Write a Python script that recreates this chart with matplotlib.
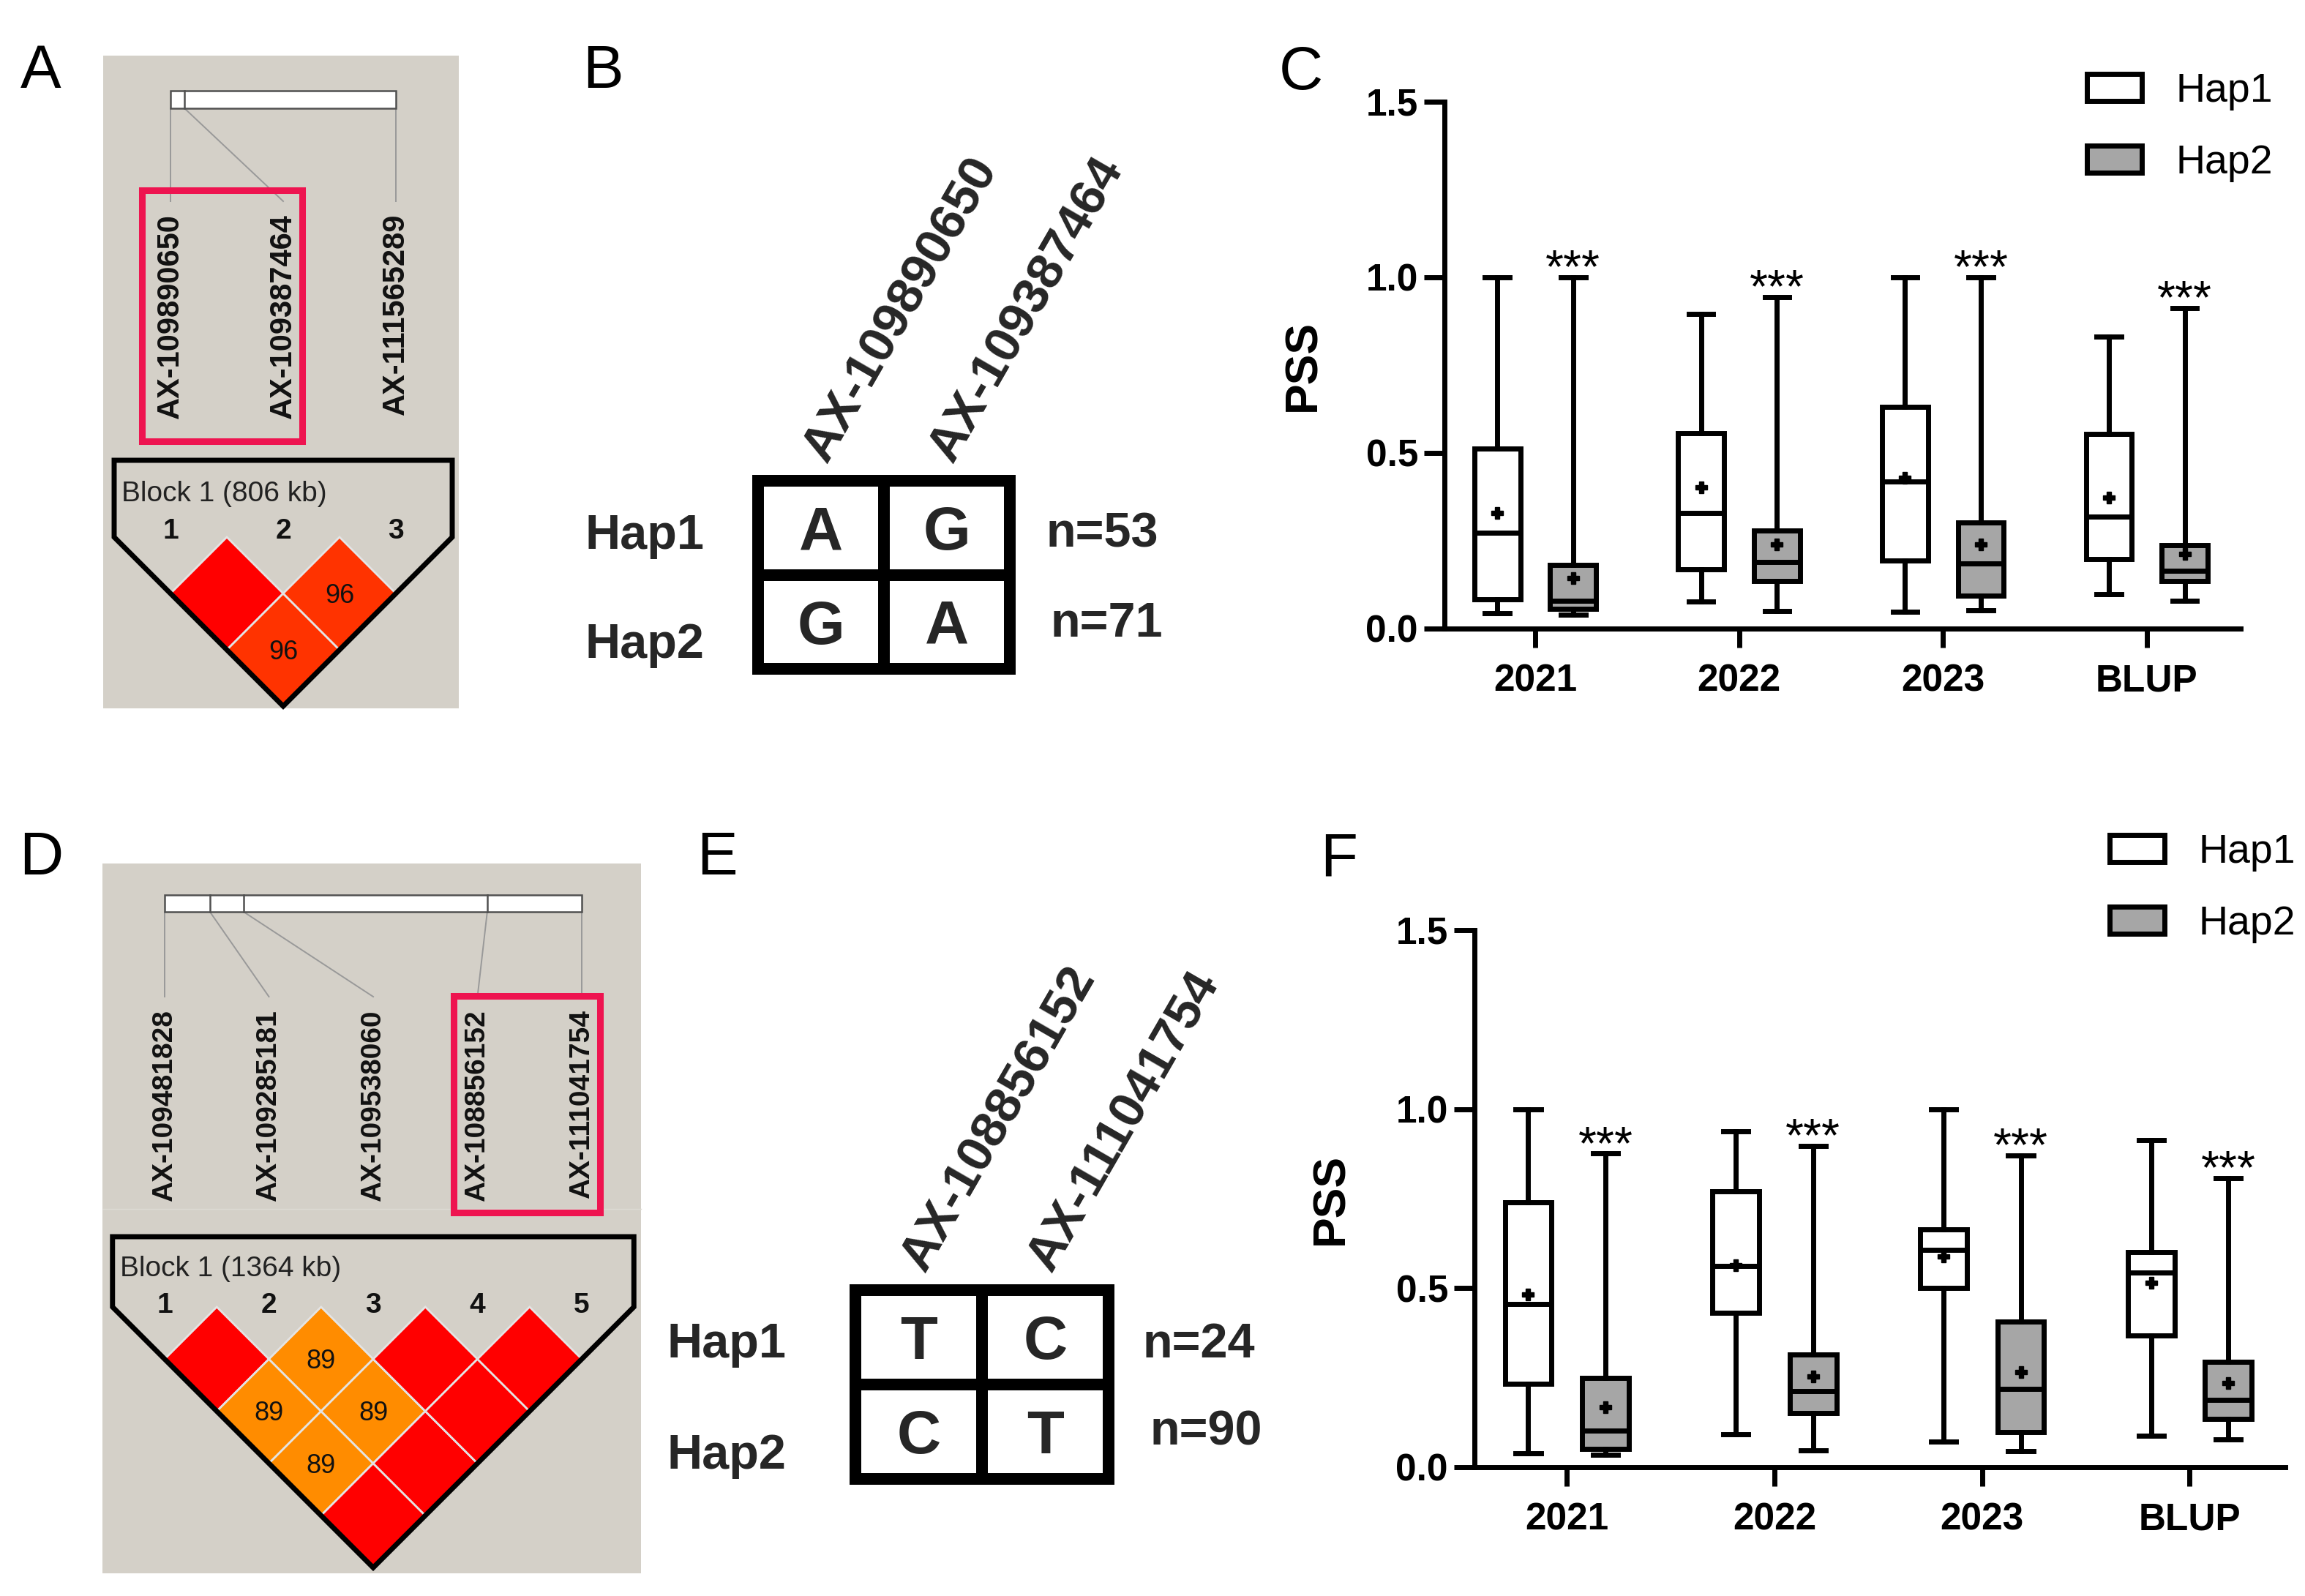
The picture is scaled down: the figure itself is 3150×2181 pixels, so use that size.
import numpy as np
import matplotlib.pyplot as plt
from matplotlib.patches import Polygon, Rectangle, Patch

plt.rcParams['font.family'] = ['Liberation Sans', 'DejaVu Sans']

# ---- data ----
snps_a = ['AX-109890650', 'AX-109387464', 'AX-111565289']
pos_a_kb = [0, 50, 806]
ld_a = [[100, 96], [96]]
block_a = 'Block 1 (806 kb)'

snps_d = ['AX-109481828', 'AX-109285181', 'AX-109538060', 'AX-108856152', 'AX-111041754']
pos_d_kb = [0, 148, 258, 1055, 1364]
ld_d = [[100, 89, 89, 100], [89, 89, 100], [100, 100], [100]]
block_d = 'Block 1 (1364 kb)'

hap_names = ['Hap1', 'Hap2']
b_snps = ['AX-109890650', 'AX-109387464']
b_alleles = [['A', 'G'], ['G', 'A']]
b_counts = [53, 71]
e_snps = ['AX-108856152', 'AX-111041754']
e_alleles = [['T', 'C'], ['C', 'T']]
e_counts = [24, 90]

groups = ['2021', '2022', '2023', 'BLUP']

# panel C
c_hap1_min = [0.043, 0.077, 0.047, 0.097]
c_hap1_q1 = [0.083, 0.169, 0.193, 0.197]
c_hap1_med = [0.273, 0.330, 0.419, 0.319]
c_hap1_q3 = [0.512, 0.556, 0.632, 0.555]
c_hap1_max = [1.000, 0.896, 1.000, 0.832]
c_hap1_mean = [0.329, 0.402, 0.430, 0.373]
c_hap2_min = [0.040, 0.051, 0.053, 0.080]
c_hap2_q1 = [0.056, 0.136, 0.093, 0.136]
c_hap2_med = [0.080, 0.190, 0.186, 0.164]
c_hap2_q3 = [0.182, 0.280, 0.302, 0.237]
c_hap2_max = [1.000, 0.944, 1.000, 0.912]
c_hap2_mean = [0.144, 0.240, 0.240, 0.213]

# panel F
f_hap1_min = [0.038, 0.092, 0.071, 0.088]
f_hap1_q1 = [0.233, 0.431, 0.501, 0.367]
f_hap1_med = [0.456, 0.561, 0.607, 0.544]
f_hap1_q3 = [0.739, 0.770, 0.664, 0.600]
f_hap1_max = [1.000, 0.939, 1.000, 0.914]
f_hap1_mean = [0.483, 0.565, 0.589, 0.516]
f_hap2_min = [0.035, 0.047, 0.045, 0.078]
f_hap2_q1 = [0.052, 0.151, 0.099, 0.134]
f_hap2_med = [0.103, 0.212, 0.219, 0.188]
f_hap2_q3 = [0.250, 0.315, 0.407, 0.294]
f_hap2_max = [0.876, 0.897, 0.871, 0.808]
f_hap2_mean = [0.167, 0.254, 0.266, 0.236]

W, H = 3150, 2181
PX = 100 / 72.0  # pixels per point
fig = plt.figure(figsize=(W / 100, H / 100), dpi=100)
ov = fig.add_axes([0, 0, 1, 1])
ov.set_xlim(0, W)
ov.set_ylim(H, 0)
ov.axis('off')

TXT = '#262626'


def cap(fs):
    return fs * PX * 0.716


def ld_color(v):
    if v >= 100:
        return '#ff0000'
    if v >= 95:
        return '#ff3300'
    return '#ff8c00'


def draw_ld(snps, pos_kb, ld, block, rect, x0, s, bar_y, line_y, label_top,
            label_fs, box, pent_top, d_top, text_y, num_y):
    n = len(snps)
    ov.add_patch(Rectangle((rect[0], rect[1]), rect[2] - rect[0], rect[3] - rect[1],
                           fc='#d4d0c8', ec='none', zorder=0))
    xs = x0 + s * np.arange(n)
    span = xs[-1] - xs[0]
    px = xs[0] + np.array(pos_kb) / pos_kb[-1] * span
    ov.add_patch(Rectangle((xs[0], bar_y[0]), span, bar_y[1] - bar_y[0],
                           fc='white', ec='#505050', lw=1.8, zorder=2))
    for p in px[1:-1]:
        ov.plot([p, p], bar_y, color='#505050', lw=1.8, zorder=3)
    for p, x, name in zip(px, xs, snps):
        ov.plot([p, x], [bar_y[1], line_y], color='#999999', lw=1.4, zorder=1)
        ov.text(x, label_top, name, rotation=90, ha='center', va='top',
                fontsize=label_fs, fontweight='bold', color='#111111')
    ov.add_patch(Rectangle((box[0], box[1]), box[2] - box[0], box[3] - box[1],
                           fc='none', ec='#ee1450', lw=6.5, zorder=4))
    # LD diamonds
    h = s / 2
    for i, row in enumerate(ld):
        for k, v in enumerate(row):
            j = i + 1 + k
            cx = x0 + (i + j) / 2 * s
            cy = d_top + h + (j - i - 1) * h
            ov.add_patch(Polygon([(cx, cy - h), (cx + h, cy), (cx, cy + h), (cx - h, cy)],
                                 closed=True, fc=ld_color(v), ec='#e4e4e4', lw=2.0, zorder=2))
            if v < 100:
                ov.text(cx, cy + cap(26) / 2, str(v), ha='center', va='baseline',
                        fontsize=26, color='#111111', zorder=5)
    mid = (xs[0] + xs[-1]) / 2
    pent = [(xs[0] - h, pent_top), (xs[-1] + h, pent_top), (xs[-1] + h, d_top),
            (mid, d_top + n * h), (xs[0] - h, d_top)]
    ov.add_patch(Polygon(pent, closed=True, fc='none', ec='black', lw=5, zorder=4))
    ov.text(xs[0] - h + 10, text_y + cap(28) / 2, block, ha='left', va='baseline',
            fontsize=28, color='#222222')
    for k, x in enumerate(xs):
        ov.text(x, num_y + cap(28) / 2, str(k + 1), ha='center', va='baseline',
                fontsize=28, fontweight='bold', color='#111111')


draw_ld(snps_a, pos_a_kb, ld_a, block_a, rect=(141, 76, 627, 968), x0=233, s=154,
        bar_y=(124, 148), line_y=275, label_top=292, label_fs=30,
        box=(194, 260, 413, 603), pent_top=629, d_top=734, text_y=671, num_y=722)
draw_ld(snps_d, pos_d_kb, ld_d, block_d, rect=(140, 1180, 876, 2150), x0=225, s=142.5,
        bar_y=(1223, 1246), line_y=1362, label_top=1380, label_fs=28,
        box=(620, 1361, 820, 1657), pent_top=1690, d_top=1786, text_y=1730, num_y=1780)
ov.plot([140, 876], [1652, 1652], color='#dedbd4', lw=1.0, zorder=1)


def draw_table(snps, alleles, counts, left, top, cw, rh, hap_x, hap_dy, n_x, n_y):
    lw = 11.5
    ov.add_patch(Rectangle((left, top), 2 * cw, 2 * rh, fc='white', ec='black',
                           lw=lw, joinstyle='miter', zorder=3))
    ov.plot([left + cw, left + cw], [top, top + 2 * rh], color='black', lw=lw,
            solid_capstyle='butt', zorder=3)
    ov.plot([left, left + 2 * cw], [top + rh, top + rh], color='black', lw=lw,
            solid_capstyle='butt', zorder=3)
    for c, name in enumerate(snps):
        ov.text(left + cw * (c + 0.5) + 8, top - 22, name, rotation=60,
                rotation_mode='anchor', ha='left', va='baseline', fontsize=50,
                fontweight='bold', color=TXT)
    for r in range(2):
        yc = top + rh * (r + 0.5)
        for c in range(2):
            ov.text(left + cw * (c + 0.5), yc + cap(60) / 2, alleles[r][c], ha='center',
                    va='baseline', fontsize=60, fontweight='bold', color=TXT, zorder=4)
        ov.text(hap_x, yc + hap_dy[r] + cap(48) / 2, hap_names[r], ha='left',
                va='baseline', fontsize=48, fontweight='bold', color=TXT)
        ov.text(n_x[r], n_y[r] + cap(48) / 2, 'n=%d' % counts[r], ha='left',
                va='baseline', fontsize=48, fontweight='bold', color=TXT)


draw_table(b_snps, b_alleles, b_counts, left=1036, top=657, cw=172, rh=128.5,
           hap_x=800, hap_dy=[5, 25], n_x=[1430, 1436], n_y=[724, 846])
draw_table(e_snps, e_alleles, e_counts, left=1169, top=1763, cw=173, rh=129,
           hap_x=911, hap_dy=[4, 27], n_x=[1562, 1571], n_y=[1831, 1951])

# panel letters
for lab, x, y in [('A', 56, 90), ('B', 824, 90), ('C', 1778, 92),
                  ('D', 56, 1165), ('E', 980, 1165), ('F', 1830, 1167)]:
    ov.text(x, y + cap(60) / 2, lab, ha='center', va='baseline', fontsize=60, color='black')


def stats(lo, q1, med, q3, hi, mean):
    return [dict(whislo=a, q1=b, med=c, q3=d, whishi=e, mean=f, fliers=[])
            for a, b, c, d, e, f in zip(lo, q1, med, q3, hi, mean)]


def draw_box(rect, s1, s2, leg_xy):
    l, r, t, b = rect
    ax = fig.add_axes([l / W, 1 - b / H, (r - l) / W, (b - t) / H])
    x = np.arange(len(groups))
    lw = 5
    for st, off, fc in [(s1, -0.186, 'white'), (s2, 0.186, '#a6a6a6')]:
        ax.bxp(st, positions=x + off, widths=0.225, capwidths=0.12, patch_artist=True,
               showmeans=True, showfliers=False,
               boxprops=dict(facecolor=fc, edgecolor='black', linewidth=lw),
               whiskerprops=dict(color='black', linewidth=lw),
               capprops=dict(color='black', linewidth=lw),
               medianprops=dict(color='black', linewidth=lw),
               meanprops=dict(marker='P', markerfacecolor='black',
                              markeredgecolor='black', markersize=12))
    for k, st in enumerate(s2):
        ax.text(x[k] + 0.186, st['whishi'] - 0.015, '***', ha='center', va='baseline',
                fontsize=46, color='black')
    ax.set_xlim(-0.445, 3.46)
    ax.set_ylim(0, 1.5)
    ax.set_xticks(x)
    ax.set_xticklabels(groups)
    ax.set_yticks([0, 0.5, 1.0, 1.5])
    ax.set_yticklabels(['0.0', '0.5', '1.0', '1.5'])
    for sp in ['top', 'right']:
        ax.spines[sp].set_visible(False)
    for sp in ['left', 'bottom']:
        ax.spines[sp].set_linewidth(lw)
    ax.tick_params(axis='y', length=20, width=lw, pad=6, labelsize=37)
    ax.tick_params(axis='x', length=19, width=lw, pad=15, labelsize=37)
    for lb in ax.get_xticklabels() + ax.get_yticklabels():
        lb.set_fontweight('bold')
    ax.set_ylabel('PSS', fontsize=45, fontweight='bold')
    ax.yaxis.set_label_coords(-0.15, 0.5)
    ax.patch.set_alpha(0)
    handles = [Patch(facecolor='white', edgecolor='black', linewidth=lw),
               Patch(facecolor='#a6a6a6', edgecolor='black', linewidth=lw)]
    ax.legend(handles, hap_names, loc='upper left',
              bbox_to_anchor=(leg_xy[0] / W, 1 - leg_xy[1] / H), bbox_transform=fig.transFigure,
              frameon=False, borderpad=0, borderaxespad=0, fontsize=40,
              handlelength=1.35, handleheight=0.63, handletextpad=0.83, labelspacing=0.83)
    return ax


draw_box((1974, 3062, 139, 859),
         stats(c_hap1_min, c_hap1_q1, c_hap1_med, c_hap1_q3, c_hap1_max, c_hap1_mean),
         stats(c_hap2_min, c_hap2_q1, c_hap2_med, c_hap2_q3, c_hap2_max, c_hap2_mean),
         (2852, 99))
draw_box((2015, 3123, 1271, 2005),
         stats(f_hap1_min, f_hap1_q1, f_hap1_med, f_hap1_q3, f_hap1_max, f_hap1_mean),
         stats(f_hap2_min, f_hap2_q1, f_hap2_med, f_hap2_q3, f_hap2_max, f_hap2_mean),
         (2883, 1139))

fig.savefig('out.png', dpi=100)
